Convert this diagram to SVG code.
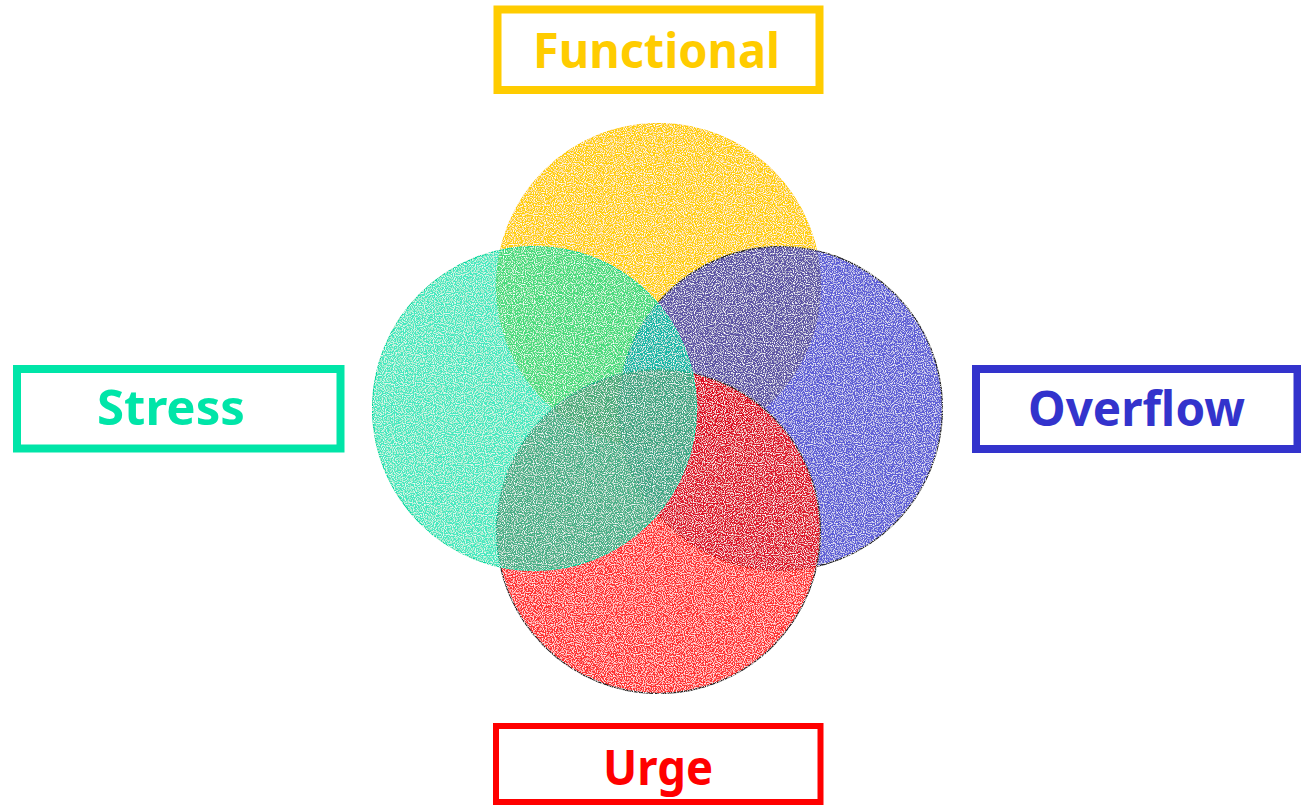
<svg xmlns="http://www.w3.org/2000/svg" width="1301" height="807" viewBox="0 0 1301 807">
<style>
.lbl{font-family:"Noto Sans","Open Sans",sans-serif;font-weight:bold;font-size:48px;text-anchor:middle}
.box{fill:#fff}
.c{stroke-width:1.2}
</style>
<defs>
<filter id="speck" x="0" y="0" width="1" height="1">
<feTurbulence type="fractalNoise" baseFrequency="0.9" numOctaves="1" seed="3" result="n"/>
<feColorMatrix in="n" type="matrix" values="0 0 0 0 1  0 0 0 0 1  0 0 0 0 1  0 0 0 -4 2.1" result="w"/>
<feComposite in="w" in2="SourceAlpha" operator="in" result="wm"/>
<feMerge><feMergeNode in="SourceGraphic"/><feMergeNode in="wm"/></feMerge>
</filter>
</defs>
<rect width="1301" height="807" fill="#fff"/>
<g id="circles" filter="url(#speck)">
<circle id="c-functional" class="c" cx="658.5" cy="285.5" r="162" fill="#FFCC00" fill-opacity="0.95" stroke="#FFCC00"/>
<circle id="c-overflow" class="c" cx="780.5" cy="408.5" r="162" fill="#3333CC" fill-opacity="0.8" stroke="#222"/>
<circle id="c-urge" class="c" cx="658.5" cy="531.5" r="162" fill="#FF0000" fill-opacity="0.8" stroke="#222"/>
<circle id="c-stress" class="c" cx="534.5" cy="408.5" r="162" fill="#00E0A8" fill-opacity="0.72" stroke="#00D8A0"/>
</g>
<g id="functional">
<rect class="box" x="497.5" y="9.5" width="322" height="80.5" stroke="#FFCC00" stroke-width="8"/>
<text class="lbl" x="656.5" y="68" fill="#FFCC00" textLength="247" lengthAdjust="spacingAndGlyphs">Functional</text>
</g>
<g id="stress">
<rect class="box" x="17" y="369" width="323.5" height="79.5" stroke="#00E5A8" stroke-width="8"/>
<text class="lbl" x="171" y="425" fill="#00E5A8" textLength="148" lengthAdjust="spacingAndGlyphs">Stress</text>
</g>
<g id="overflow">
<rect class="box" x="976" y="369" width="321.5" height="80" stroke="#3333CC" stroke-width="8"/>
<text class="lbl" x="1136.5" y="426" fill="#3333CC" textLength="217" lengthAdjust="spacingAndGlyphs">Overflow</text>
</g>
<g id="urge">
<rect class="box" x="496" y="726" width="324.5" height="76" stroke="#FF0000" stroke-width="6"/>
<text class="lbl" x="658" y="785" fill="#FF0000" textLength="110" lengthAdjust="spacingAndGlyphs">Urge</text>
</g>
<g id="connectors"/>
</svg>
